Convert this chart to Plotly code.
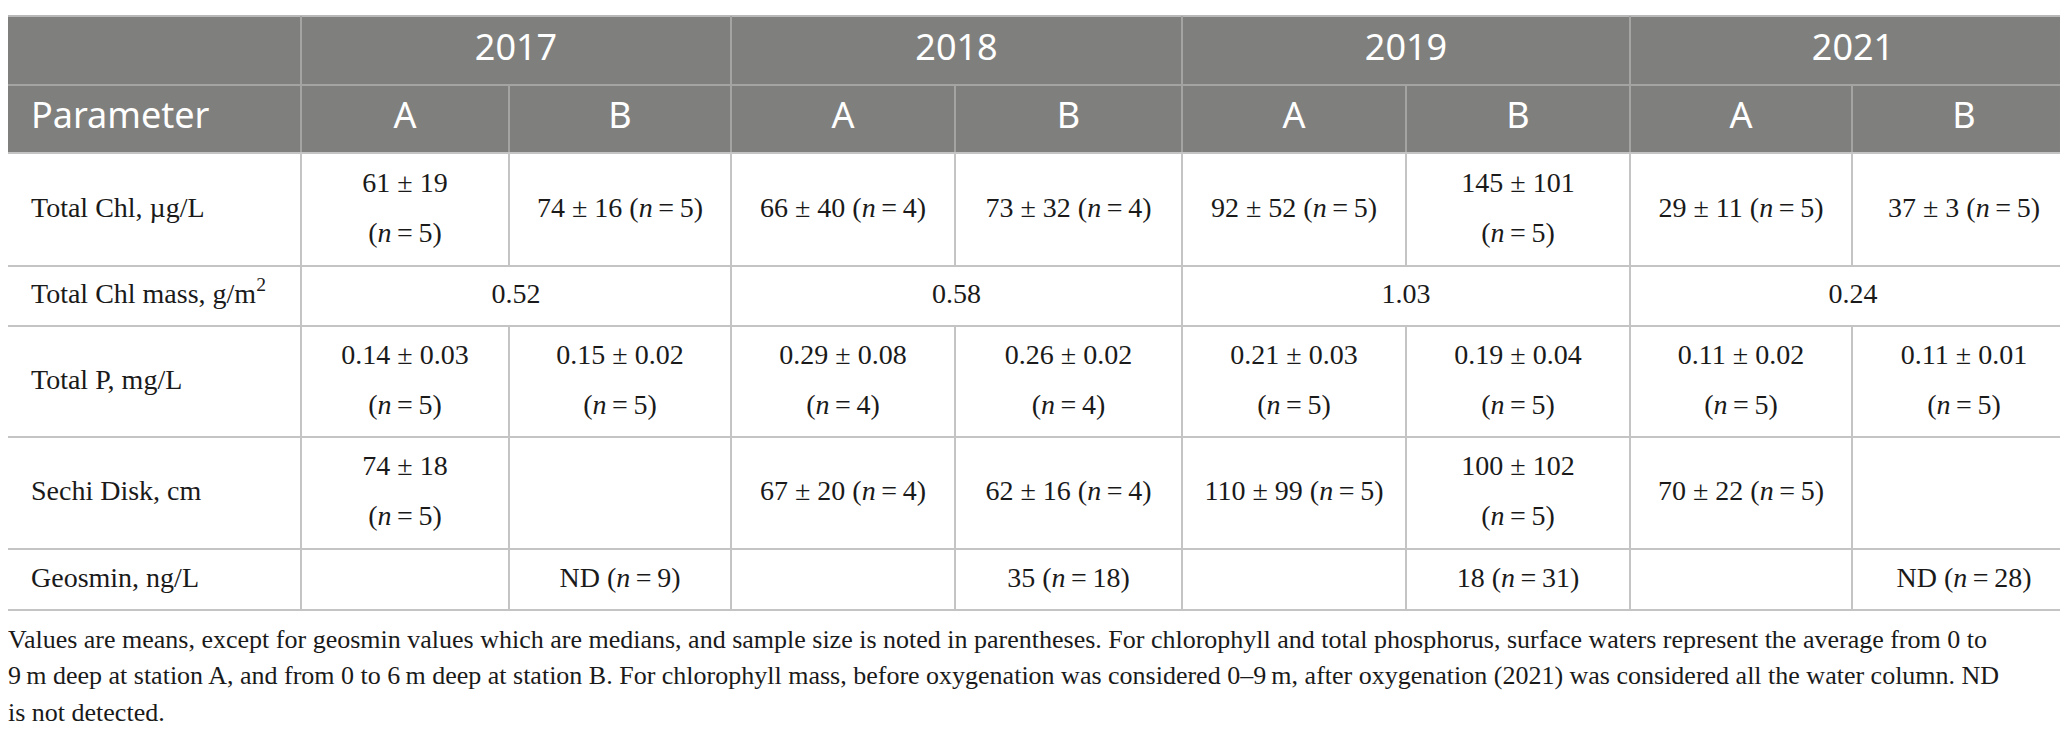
import plotly.graph_objects as go

# table content
years = ["2017", "2018", "2019", "2021"]
stations = ["A", "B"]
header_label = "Parameter"
parameters = ["Total Chl, µg/L", "Total Chl mass, g/m<sup>2</sup>", "Total P, mg/L",
              "Sechi Disk, cm", "Geosmin, ng/L"]

# one entry per year/station column ("|" = line break inside the cell)
total_chl = ["61 ± 19|(n=5)", "74 ± 16 (n=5)", "66 ± 40 (n=4)", "73 ± 32 (n=4)",
             "92 ± 52 (n=5)", "145 ± 101|(n=5)", "29 ± 11 (n=5)", "37 ± 3 (n=5)"]
# one entry per year (merged over A and B)
chl_mass = ["0.52", "0.58", "1.03", "0.24"]
total_p = ["0.14 ± 0.03|(n=5)", "0.15 ± 0.02|(n=5)", "0.29 ± 0.08|(n=4)", "0.26 ± 0.02|(n=4)",
           "0.21 ± 0.03|(n=5)", "0.19 ± 0.04|(n=5)", "0.11 ± 0.02|(n=5)", "0.11 ± 0.01|(n=5)"]
secchi = ["74 ± 18|(n=5)", "", "67 ± 20 (n=4)", "62 ± 16 (n=4)",
          "110 ± 99 (n=5)", "100 ± 102|(n=5)", "70 ± 22 (n=5)", ""]
geosmin = ["", "ND (n=9)", "", "35 (n=18)", "", "18 (n=31)", "", "ND (n=28)"]

footnote = [
    "Values are means, except for geosmin values which are medians, and sample size is noted in parentheses. "
    "For chlorophyll and total phosphorus, surface waters represent the average from 0 to",
    "9\u2009m deep at station A, and from 0 to 6\u2009m deep at station B. For chlorophyll mass, before oxygenation "
    "was considered 0–9\u2009m, after oxygenation (2021) was considered all the water column. ND",
    "is not detected.",
]

body_rows = [total_chl, chl_mass, total_p, secchi, geosmin]

# grid geometry
W, H = 2068, 734
col_w = [293, 208, 222, 224, 227, 224, 224, 222, 224]
row_h = [69, 68, 113, 60, 111, 112, 61]
top = 8
pad_left = 23
line_gap = 25      # half the distance between stacked lines in one cell
foot_y0, foot_gap = 633, 36.5

HEAD_BG = "#7f807e"
HEAD_LINE = "#a4a5a3"
GRID = "#c4c4c4"
INK = "#1a1a1a"
SERIF = "Liberation Serif"
SANS = "Noto Sans"

col_x = [0]
for w in col_w:
    col_x.append(col_x[-1] + w)
row_y = [top]
for h in row_h:
    row_y.append(row_y[-1] + h)


def fmt(s):
    return s.replace("(n=", "(<i>n</i>\u2009=\u2009")


def mid(a, b):
    return (a + b) / 2


bx, by, bt = [], [], []


def put(text, xc, yc):
    if not text:
        return
    parts = fmt(text).split("|")
    offs = [0] if len(parts) == 1 else [-line_gap, line_gap]
    for p, o in zip(parts, offs):
        bx.append(xc)
        by.append(yc + o)
        bt.append(p)


for i, vals in enumerate(body_rows):
    yc = mid(row_y[2 + i], row_y[3 + i])
    if len(vals) == len(years):
        for k, v in enumerate(vals):
            put(v, mid(col_x[1 + 2 * k], col_x[3 + 2 * k]), yc)
    else:
        for j, v in enumerate(vals):
            put(v, mid(col_x[1 + j], col_x[2 + j]), yc)

# header text
hx, hy, ht = [], [], []
for k, yr in enumerate(years):
    hx.append(mid(col_x[1 + 2 * k], col_x[3 + 2 * k]))
    hy.append(mid(row_y[0], row_y[1]))
    ht.append(yr)
    for s, st in enumerate(stations):
        j = 1 + 2 * k + s
        hx.append(mid(col_x[j], col_x[j + 1]))
        hy.append(mid(row_y[1], row_y[2]))
        ht.append(st)

shapes = [dict(type="rect", xref="x", yref="y", x0=0, x1=W, y0=row_y[0], y1=row_y[2],
               fillcolor=HEAD_BG, line=dict(width=0), layer="below")]


def hline(y, x0, x1, color):
    shapes.append(dict(type="line", xref="x", yref="y", x0=x0, x1=x1, y0=y, y1=y,
                       line=dict(color=color, width=2)))


def vline(x, y0, y1, color):
    shapes.append(dict(type="line", xref="x", yref="y", x0=x, x1=x, y0=y0, y1=y1,
                       line=dict(color=color, width=2)))


hline(row_y[0], 0, W, "#b9b9b9")
hline(row_y[1], 0, W, HEAD_LINE)
for k in range(len(years)):
    vline(col_x[1 + 2 * k], row_y[0], row_y[1], HEAD_LINE)
for j in range(1, len(col_x) - 1):
    vline(col_x[j], row_y[1], row_y[2], HEAD_LINE)

for i, vals in enumerate(body_rows):
    y0, y1 = row_y[2 + i], row_y[3 + i]
    merged = len(vals) == len(years)
    for j in range(1, len(col_x) - 1):
        if merged and j % 2 == 0:
            continue
        vline(col_x[j], y0, y1, GRID)
for r in range(2, len(row_y)):
    hline(row_y[r], 0, W, GRID)

fig = go.Figure()
fig.add_trace(go.Scatter(x=hx, y=hy, text=ht, mode="text", textposition="middle center",
                         textfont=dict(family=SANS, size=36, color="white"), hoverinfo="skip"))
fig.add_trace(go.Scatter(x=[pad_left], y=[mid(row_y[1], row_y[2])], text=[header_label], mode="text",
                         textposition="middle right",
                         textfont=dict(family=SANS, size=36, color="white"), hoverinfo="skip"))
fig.add_trace(go.Scatter(x=[pad_left] * len(parameters),
                         y=[mid(row_y[2 + i], row_y[3 + i]) for i in range(len(parameters))],
                         text=parameters, mode="text", textposition="middle right",
                         textfont=dict(family=SERIF, size=28, color=INK), hoverinfo="skip"))
fig.add_trace(go.Scatter(x=bx, y=by, text=bt, mode="text", textposition="middle center",
                         textfont=dict(family=SERIF, size=28, color=INK), hoverinfo="skip"))
fig.add_trace(go.Scatter(x=[0] * len(footnote), y=[foot_y0 + foot_gap * i for i in range(len(footnote))],
                         text=footnote, mode="text", textposition="middle right",
                         textfont=dict(family=SERIF, size=26, color=INK), hoverinfo="skip"))
fig.update_traces(cliponaxis=False, showlegend=False)

fig.update_layout(
    width=W, height=H,
    margin=dict(l=0, r=0, t=0, b=0),
    paper_bgcolor="white", plot_bgcolor="white",
    shapes=shapes,
    xaxis=dict(range=[0, W], visible=False, fixedrange=True),
    yaxis=dict(range=[H, 0], visible=False, fixedrange=True),
)

fig.write_html("out.html")
